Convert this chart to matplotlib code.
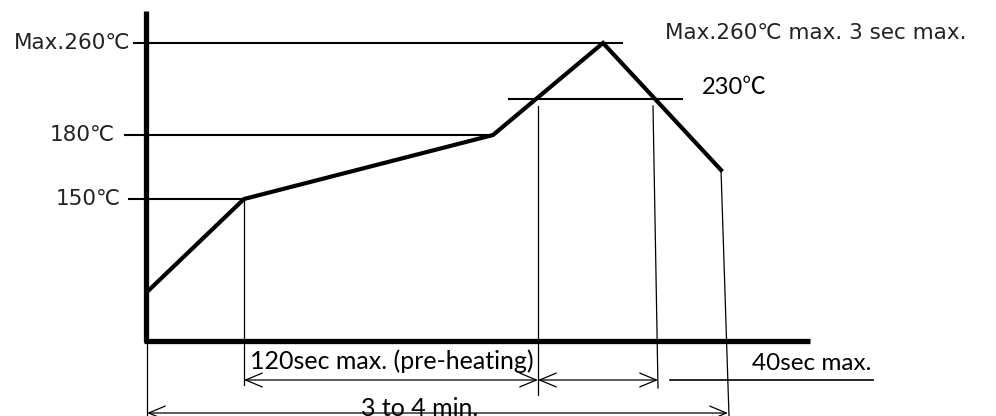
import matplotlib.pyplot as plt

# schematic reflow profile (x: time position, h: height above the time axis)
profile_x = [2, 98, 347, 457, 575]
profile_h = [50, 142, 206, 298, 171]

# temperature levels and their heights in the schematic
level_labels = ['Max.260℃', '180℃', '150℃']
level_h = [298, 206, 142]
level_start = [-12, -21, -17]
level_end = [476, 347, 98]
label_x = [-16, -31, -25]

line_230_x = [363, 536]
line_230_h = 242

# vertical marker lines: (x top, h top, x bottom, h bottom)
markers = [
    (98, 142, 98, -44),
    (392, 235, 392, -54),
    (507, 235, 512, -47),
    (575, 171, 583, -75),
    (1, 0, 1, -75),
]

# span arrows
spans = [(98, 392, -39), (392, 512, -39), (1, 582, -72)]

lat = ['Lato', 'Noto Sans CJK KR', 'DejaVu Sans']
dv = ['DejaVu Sans', 'Noto Sans CJK KR']

fig = plt.figure(figsize=(9.96, 4.16), dpi=100)
ax = fig.add_axes([0, 0, 1, 1])
ax.set_xlim(-146, 850)
ax.set_ylim(-75, 341)
ax.axis('off')

# axes of the diagram
ax.plot([0, 0], [-1, 330], color='black', lw=3.8, solid_capstyle='butt')
ax.plot([-2, 664], [0, 0], color='black', lw=3.8, solid_capstyle='butt')

# reference temperature lines
for h, x0, x1 in zip(level_h, level_start, level_end):
    ax.plot([x0, x1], [h, h], color='black', lw=1.5)
ax.plot(line_230_x, [line_230_h, line_230_h], color='black', lw=1.5)

for lab, h, lx in zip(level_labels, level_h, label_x):
    ax.text(lx, h, lab, ha='right', va='center', fontsize=15.5, family=dv,
            color='#222222')

# profile
ax.plot(profile_x, profile_h, color='black', lw=3, solid_joinstyle='miter')

# marker lines
for xt, ht, xb, hb in markers:
    ax.plot([xt, xb], [ht, hb], color='black', lw=0.9)

# span arrows
for x0, x1, h in spans:
    ax.annotate('', xy=(x1, h), xytext=(x0, h),
                arrowprops=dict(arrowstyle='<->,head_length=1.2,head_width=0.5',
                                color='black', lw=0.9, shrinkA=0, shrinkB=0))
ax.plot([524, 727], [-39, -39], color='black', lw=1.2)

ax.text(556, 253, '230℃', ha='left', va='center', fontsize=17, family=lat)
ax.text(519, 308, 'Max.260℃ max. 3 sec max.', ha='left', va='center',
        fontsize=15.5, family=dv, color='#222222')
ax.text(104, -20, '120sec max. (pre-heating)', ha='left', va='center',
        fontsize=18, family=lat)
ax.text(606, -23, '40sec max.', ha='left', va='center', fontsize=17.5, family=lat)
ax.text(274, -67, '3 to 4 min.', ha='center', va='center', fontsize=18, family=lat)

fig.savefig('out.png', dpi=100)
